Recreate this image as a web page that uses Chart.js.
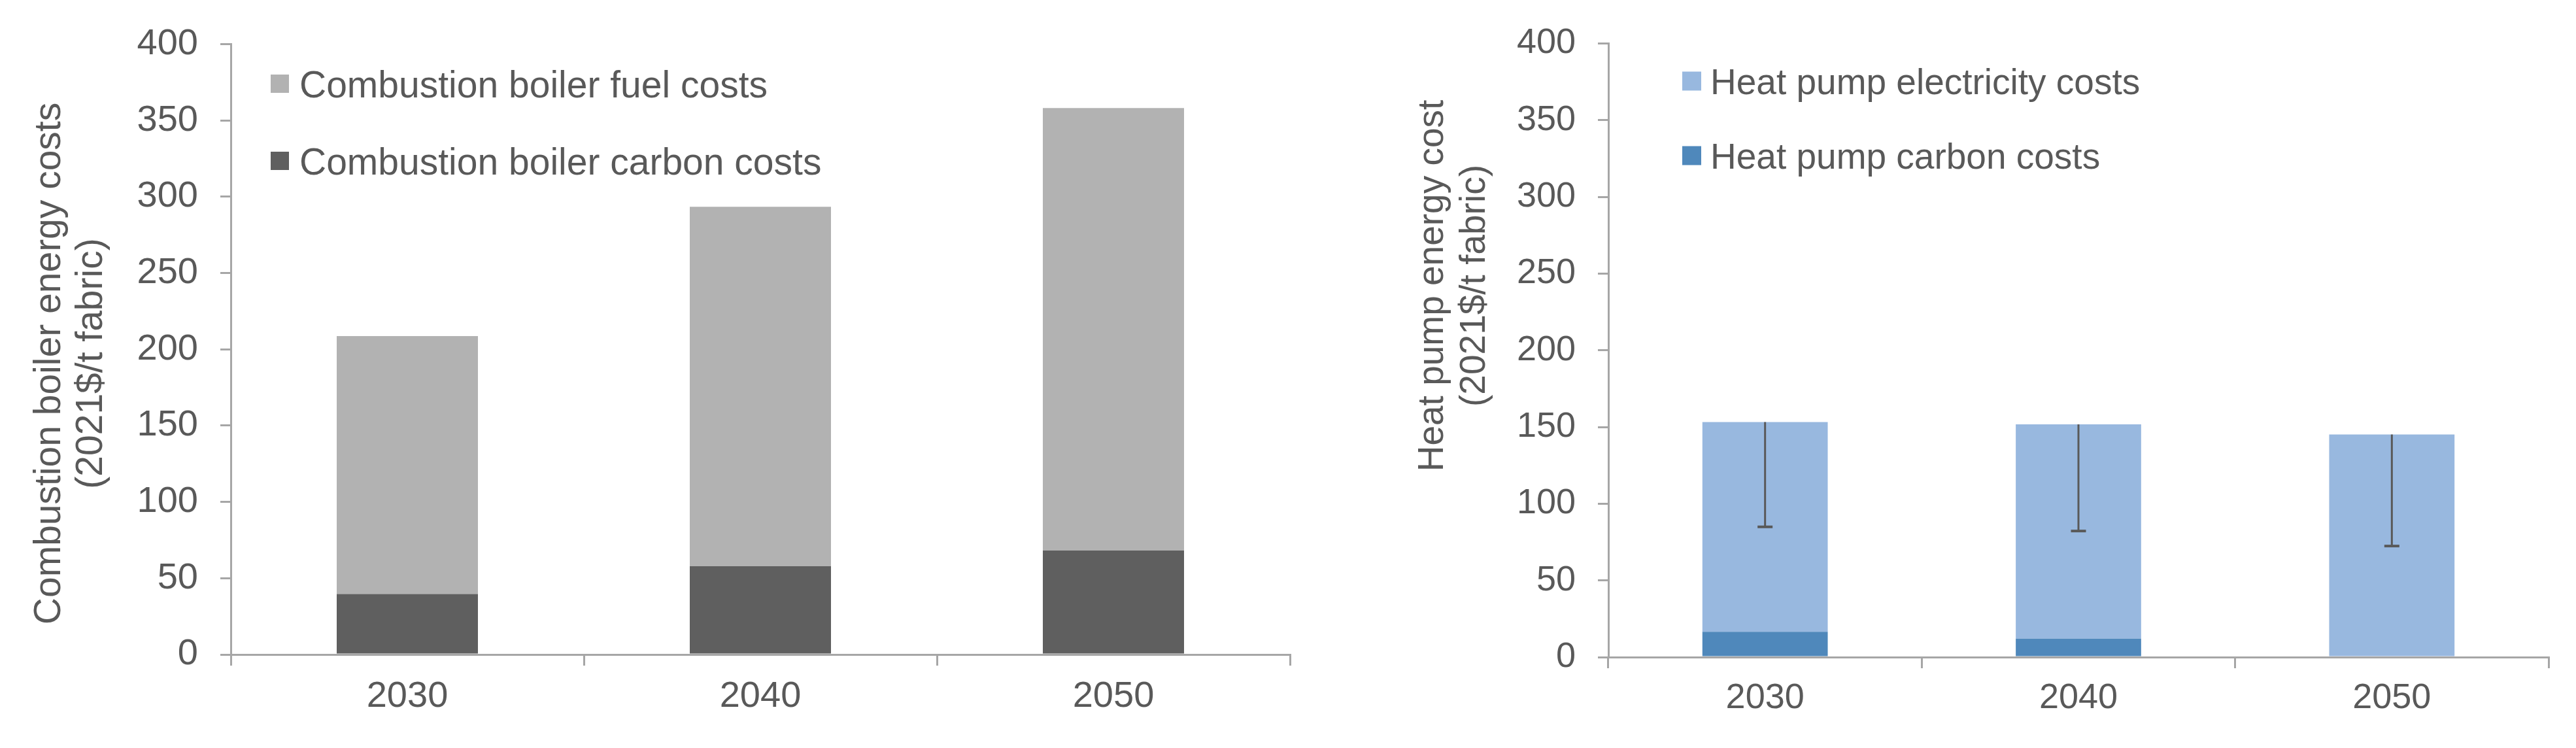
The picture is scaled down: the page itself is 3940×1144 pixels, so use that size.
<!DOCTYPE html>
<html><head><meta charset="utf-8">
<script src="https://cdn.jsdelivr.net/npm/chart.js@4/dist/chart.umd.min.js"></script>
<style>
html,body{margin:0;padding:0;background:#fff;}
#wrap{position:relative;width:3940px;height:1144px;background:#fff;}
#c1{position:absolute;left:0;top:0;}
#c2{position:absolute;left:2000px;top:0;}
</style></head><body>
<div id="wrap"><canvas id="c1" width="2000" height="1144"></canvas><canvas id="c2" width="1940" height="1144"></canvas></div>
<script>
// ---- data ----
const years = ['2030', '2040', '2050'];
const boilerCarbon = [39.6, 57.8, 68.1];
const boilerFuel = [169.1, 235.6, 290.0];
const hpCarbon = [16.5, 12.0, 0];
const hpElectricity = [136.7, 139.7, 145.1];
const hpErrorMinus = [68.3, 69.5, 72.7];
const yMin = 0, yMax = 400, yStep = 50;
const leftTitle = ['Combustion boiler energy costs', '(2021$/t fabric)'];
const rightTitle = ['Heat pump energy cost', '(2021$/t fabric)'];
const leftLabels = ['Combustion boiler carbon costs', 'Combustion boiler fuel costs'];
const rightLabels = ['Heat pump carbon costs', 'Heat pump electricity costs'];

// ---- styles ----
const FAMILY = '"Liberation Sans", Arial, sans-serif';
const TEXT = '#595959';
const AXIS = '#a6a6a6';

const legendPlugin = {
  id: 'boxLegend',
  afterDraw(chart, args, opts) {
    const ctx = chart.ctx;
    const ds = chart.data.datasets.slice().reverse();
    ctx.save();
    ctx.font = opts.fontSize + 'px ' + FAMILY;
    ctx.textBaseline = 'alphabetic';
    ctx.textAlign = 'left';
    ds.forEach((d, i) => {
      const cy = opts.rows[i];
      ctx.fillStyle = d.backgroundColor;
      ctx.fillRect(opts.x, cy - opts.box / 2, opts.box, opts.box);
      ctx.fillStyle = TEXT;
      ctx.fillText(d.label, opts.textX, cy + opts.fontSize * 0.36);
    });
    ctx.restore();
  }
};

const yTitlePlugin = {
  id: 'yTitle',
  afterDraw(chart, args, opts) {
    const ctx = chart.ctx;
    ctx.save();
    ctx.font = opts.fontSize + 'px ' + FAMILY;
    ctx.fillStyle = TEXT;
    ctx.textAlign = 'center';
    ctx.textBaseline = 'alphabetic';
    opts.lines.forEach((t, i) => {
      ctx.save();
      ctx.translate(opts.xs[i], opts.cy);
      ctx.rotate(-Math.PI / 2);
      ctx.fillText(t, 0, 0);
      ctx.restore();
    });
    ctx.restore();
  }
};

const errorPlugin = {
  id: 'errBars',
  afterDatasetsDraw(chart, args, opts) {
    if (!opts || !opts.minus) return;
    const ctx = chart.ctx;
    const y = chart.scales.y;
    const topMeta = chart.getDatasetMeta(chart.data.datasets.length - 1);
    ctx.save();
    ctx.strokeStyle = '#595959';
    opts.minus.forEach((m, i) => {
      const total = chart.data.datasets.reduce((s, d) => s + d.data[i], 0);
      const el = topMeta.data[i];
      const yTop = y.getPixelForValue(total);
      const yLow = y.getPixelForValue(total - m);
      ctx.lineWidth = 3;
      ctx.beginPath();
      ctx.moveTo(el.x, yTop);
      ctx.lineTo(el.x, yLow);
      ctx.stroke();
      ctx.lineWidth = 4;
      ctx.beginPath();
      ctx.moveTo(el.x - 11.5, yLow);
      ctx.lineTo(el.x + 11.5, yLow);
      ctx.stroke();
    });
    ctx.restore();
  }
};

function makeChart(id, cfg) {
  const font = { size: cfg.fontSize, family: FAMILY };
  return new Chart(document.getElementById(id), {
    type: 'bar',
    data: {
      labels: years,
      datasets: [
        { label: cfg.labels[0], data: cfg.bottom, backgroundColor: cfg.colors[0], borderWidth: 0 },
        { label: cfg.labels[1], data: cfg.top, backgroundColor: cfg.colors[1], borderWidth: 0 }
      ]
    },
    options: {
      responsive: false,
      devicePixelRatio: 1,
      animation: false,
      layout: { padding: { left: 0, top: 62, right: cfg.padRight, bottom: 0 } },
      datasets: { bar: { categoryPercentage: 1, barPercentage: 0.4 } },
      plugins: {
        legend: { display: false },
        tooltip: { enabled: false },
        boxLegend: cfg.legend,
        yTitle: cfg.title,
        errBars: cfg.err
      },
      scales: {
        x: {
          stacked: true,
          offset: true,
          grid: { display: true, offset: true, drawOnChartArea: false, drawTicks: true, tickLength: 17, color: AXIS, lineWidth: 3 },
          border: { display: true, color: AXIS, width: 3 },
          ticks: { color: TEXT, font, padding: 14, maxRotation: 0 },
          afterFit(s) { s.height = cfg.xHeight; }
        },
        y: {
          stacked: true,
          min: yMin, max: yMax,
          grid: { display: true, drawOnChartArea: false, drawTicks: true, tickLength: 16, color: AXIS, lineWidth: 3 },
          border: { display: true, color: AXIS, width: 3 },
          ticks: { stepSize: yStep, color: TEXT, font, padding: 34 },
          afterFit(s) { s.width = cfg.yWidth; }
        }
      }
    },
    plugins: [legendPlugin, yTitlePlugin, errorPlugin]
  });
}

makeChart('c1', {
  fontSize: 56,
  labels: leftLabels,
  bottom: boilerCarbon,
  top: boilerFuel,
  colors: ['#5f5f5f', '#b2b2b2'],
  padRight: 27,
  xHeight: 143,
  yWidth: 353,
  legend: { x: 414, textX: 458, box: 28, rows: [128, 246], fontSize: 57 },
  title: { lines: leftTitle, xs: [92, 156], cy: 556, fontSize: 57 },
  err: null
});

makeChart('c2', {
  fontSize: 54,
  labels: rightLabels,
  bottom: hpCarbon,
  top: hpElectricity,
  colors: ['#4f88bb', '#98b8df'],
  padRight: 42,
  xHeight: 139,
  yWidth: 460,
  legend: { x: 573, textX: 616, box: 29, rows: [124, 238], fontSize: 55 },
  title: { lines: rightTitle, xs: [207, 271], cy: 437, fontSize: 55 },
  err: { minus: hpErrorMinus }
});
</script>
</body></html>
